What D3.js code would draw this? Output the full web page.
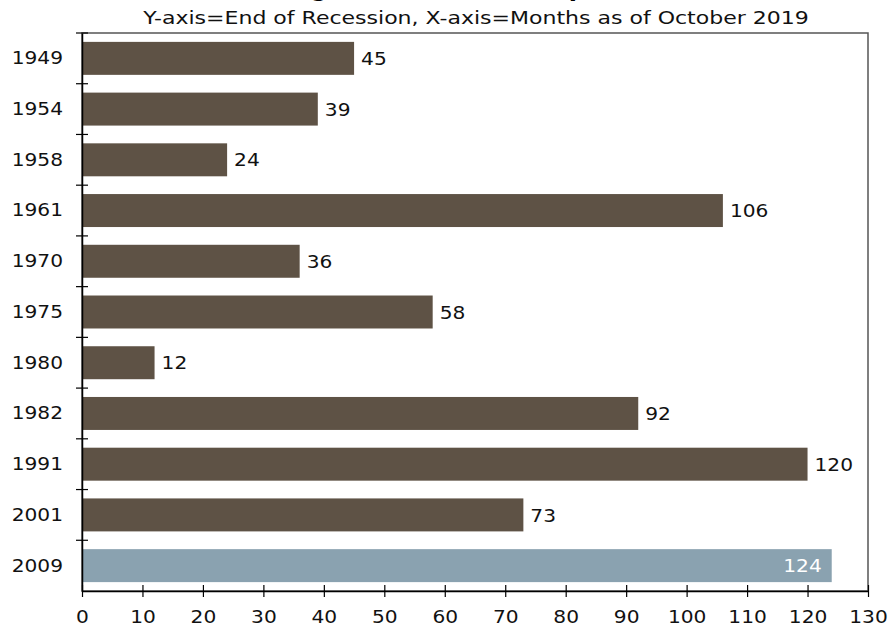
<!DOCTYPE html>
<html>
<head>
<meta charset="utf-8">
<script src="https://cdn.jsdelivr.net/npm/d3@7"></script>
<style>
  html, body { margin: 0; padding: 0; background: #fff; }
  svg { display: block; font-family: "DejaVu Sans", Verdana, sans-serif; }
</style>
</head>
<body>
<svg id="chart" width="889" height="627"></svg>
<script>
// Recession end years and the length (months) of the expansion that followed
const years = ["1949", "1954", "1958", "1961", "1970", "1975", "1980", "1982", "1991", "2001", "2009"];
const months = [45, 39, 24, 106, 36, 58, 12, 92, 120, 73, 124];
const xTicks = [0, 10, 20, 30, 40, 50, 60, 70, 80, 90, 100, 110, 120, 130];
const titleText = "Length of Economic Expansions";
const subtitleText = "Y-axis=End of Recession, X-axis=Months as of October 2019";

const FONT = 18.5;
const svg = d3.select("#chart");
const margin = { top: 33, right: 21, bottom: 36, left: 82 };
const width = 889 - margin.left - margin.right;
const height = 627 - margin.top - margin.bottom;

const x = d3.scaleLinear().domain([0, 130]).range([0, width]);
const y = d3.scaleBand().domain(years).range([0, height]).paddingInner(0.35).paddingOuter(0.175);

// Widen glyphs a little so the text has a Verdana-like set width
function widen(sel, factor) {
  sel.each(function () {
    const len = this.getComputedTextLength();
    d3.select(this).attr("textLength", len * factor).attr("lengthAdjust", "spacingAndGlyphs");
  });
}

// Title (runs off the top edge) and subtitle
svg.append("text")
  .attr("x", 476).attr("y", -4)
  .attr("text-anchor", "middle")
  .attr("font-size", 24).attr("font-weight", "bold")
  .text(titleText);
svg.append("text")
  .attr("x", 476).attr("y", 24)
  .attr("text-anchor", "middle")
  .attr("font-size", FONT)
  .attr("fill", "#111")
  .text(subtitleText)
  .call(widen, 1.19);

const g = svg.append("g").attr("transform", `translate(${margin.left},${margin.top})`);

// Plot frame
g.append("rect")
  .attr("x", 0).attr("y", 0)
  .attr("width", width).attr("height", height)
  .attr("fill", "none").attr("stroke", "#555").attr("stroke-width", 1.5);

// Bars
const last = years[years.length - 1];
const rows = years.map((yr, i) => ({ yr, v: months[i] }));
g.selectAll("rect.bar")
  .data(rows)
  .join("rect")
  .attr("class", "bar")
  .attr("x", 0)
  .attr("y", d => y(d.yr))
  .attr("width", d => x(d.v))
  .attr("height", y.bandwidth())
  .attr("fill", d => d.yr === last ? "#8AA2B0" : "#5E5245");

// Value labels
g.selectAll("text.val")
  .data(rows)
  .join("text")
  .attr("class", "val")
  .attr("x", d => d.yr === last ? x(d.v) - 10 : x(d.v) + 7)
  .attr("y", d => y(d.yr) + y.bandwidth() / 2)
  .attr("dy", "0.36em")
  .attr("text-anchor", d => d.yr === last ? "end" : "start")
  .attr("font-size", FONT)
  .attr("fill", d => d.yr === last ? "#fff" : "#111")
  .text(d => d.v)
  .call(widen, 1.09);

// X axis with ticks crossing the baseline
const xAxis = g.append("g")
  .attr("transform", `translate(0,${height})`)
  .call(d3.axisBottom(x).tickValues(xTicks).tickSize(6).tickSizeOuter(0).tickPadding(13));
xAxis.select(".domain").attr("stroke", "#000").attr("stroke-width", 1.5);
xAxis.selectAll(".tick line").attr("y1", -6).attr("y2", 6).attr("stroke", "#000").attr("stroke-width", 1.2);
xAxis.selectAll(".tick text")
  .attr("font-size", FONT).attr("font-family", "DejaVu Sans, Verdana, sans-serif").attr("fill", "#111")
  .call(widen, 1.09);

// Y axis: labels centred on bars, ticks at the band boundaries
const yAxis = g.append("g")
  .call(d3.axisLeft(y).tickSize(0).tickPadding(19));
yAxis.select(".domain").attr("stroke", "#000").attr("stroke-width", 1.5);
yAxis.selectAll(".tick text")
  .attr("font-size", FONT).attr("font-family", "DejaVu Sans, Verdana, sans-serif").attr("fill", "#111")
  .call(widen, 1.09);

const step = y.step();
const boundaries = years.map(yr => y(yr) - step * y.paddingInner() / 2);
g.selectAll("line.ytick")
  .data(boundaries)
  .join("line")
  .attr("class", "ytick")
  .attr("x1", -6).attr("x2", 6)
  .attr("y1", d => d).attr("y2", d => d)
  .attr("stroke", "#000").attr("stroke-width", 1.2);
</script>
</body>
</html>
